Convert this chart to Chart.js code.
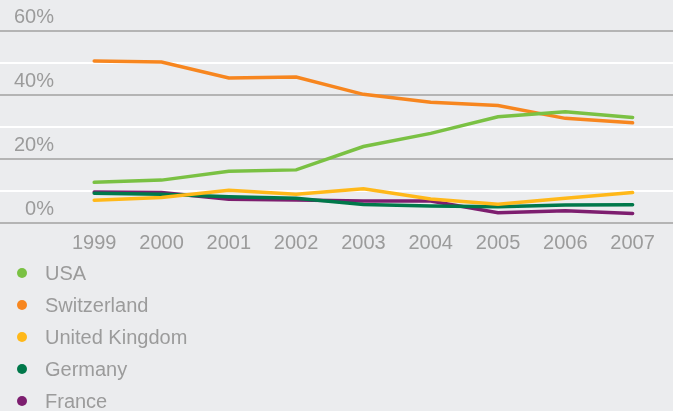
<!DOCTYPE html>
<html>
<head>
<meta charset="utf-8">
<script src="https://cdn.jsdelivr.net/npm/chart.js@4.4.1/dist/chart.umd.min.js"></script>
<style>
  html, body { margin: 0; padding: 0; background: #ebecee; }
  #chart { display: block; }
</style>
</head>
<body>
<canvas id="chart" width="673" height="411"></canvas>
<script>
'use strict';

// data (share, %)
let years = [1999, 2000, 2001, 2002, 2003, 2004, 2005, 2006, 2007];
let countries = ['USA', 'Switzerland', 'United Kingdom', 'Germany', 'France'];
let usa = [12.7, 13.4, 16.2, 16.6, 23.9, 28.0, 33.2, 34.8, 33.0];
let switzerland = [50.6, 50.3, 45.3, 45.6, 40.2, 37.7, 36.7, 32.7, 31.3];
let uk = [7.1, 8.0, 10.2, 9.0, 10.7, 7.5, 5.9, 7.7, 9.5];
let germany = [9.3, 9.0, 8.2, 7.7, 5.8, 5.3, 5.1, 5.6, 5.7];
let france = [9.7, 9.5, 7.4, 7.2, 6.9, 6.9, 3.2, 3.8, 3.0];
let colors = ['#7ac143', '#f7861f', '#ffb819', '#00784a', '#7d1e6f'];

let textColor = '#9b9b9b';
let fontFamily = '"Liberation Sans", Arial, sans-serif';

let canvasElem = document.getElementById('chart');

// vertical legend under the plot
let listLegend = {
  id: 'listLegend',
  afterDraw(chart) {
    let ctx = chart.ctx;
    ctx.save();
    ctx.font = '20px ' + fontFamily;
    ctx.textBaseline = 'middle';
    ctx.textAlign = 'left';
    chart.data.datasets.forEach((ds, i) => {
      let y = 273 + i * 32;
      ctx.fillStyle = ds.borderColor;
      ctx.beginPath();
      ctx.arc(22, y, 5, 0, Math.PI * 2);
      ctx.fill();
      ctx.fillStyle = textColor;
      ctx.fillText(ds.label, 45, y + 1);
    });
    ctx.restore();
  }
};

function renderChart() {
  let series = [usa, switzerland, uk, germany, france];
  let datasets = countries.map((name, i) => ({
    label: name,
    data: series[i].map((v, j) => ({ x: years[j], y: v })),
    borderColor: colors[i],
    backgroundColor: colors[i],
    borderWidth: 3.5,
    borderCapStyle: 'round',
    pointRadius: 0,
    tension: 0,
  }));

  let config = {
    type: 'line',
    data: { datasets: datasets },
    options: {
      responsive: false,
      animation: false,
      layout: { padding: { top: 31, left: 0, right: 0, bottom: 156 } },
      plugins: {
        legend: { display: false },
        tooltip: { enabled: false },
      },
      scales: {
        x: {
          type: 'linear',
          min: 1997.6,
          max: 2007.6,
          afterBuildTicks: axis => { axis.ticks = years.map(v => ({ value: v })); },
          grid: { display: false },
          border: { display: false },
          ticks: {
            color: textColor,
            font: { family: fontFamily, size: 20 },
            padding: 0,
            maxRotation: 0,
            callback: v => String(v),
          },
        },
        y: {
          min: 0,
          max: 60,
          afterFit: axis => { axis.width = 0; },
          grid: {
            drawTicks: false,
            lineWidth: 2,
            color: c => (c.tick.value % 20 === 0 ? '#b4b4b4' : '#ffffff'),
          },
          border: { display: false },
          ticks: {
            stepSize: 10,
            mirror: true,
            crossAlign: 'far',
            padding: 14,
            labelOffset: -14,
            color: textColor,
            font: { family: fontFamily, size: 20 },
            callback: v => (v % 20 === 0 ? v + '%' : ''),
          },
        },
      },
    },
    plugins: [listLegend],
  };

  new Chart(canvasElem, config);
}

renderChart();
</script>
</body>
</html>
